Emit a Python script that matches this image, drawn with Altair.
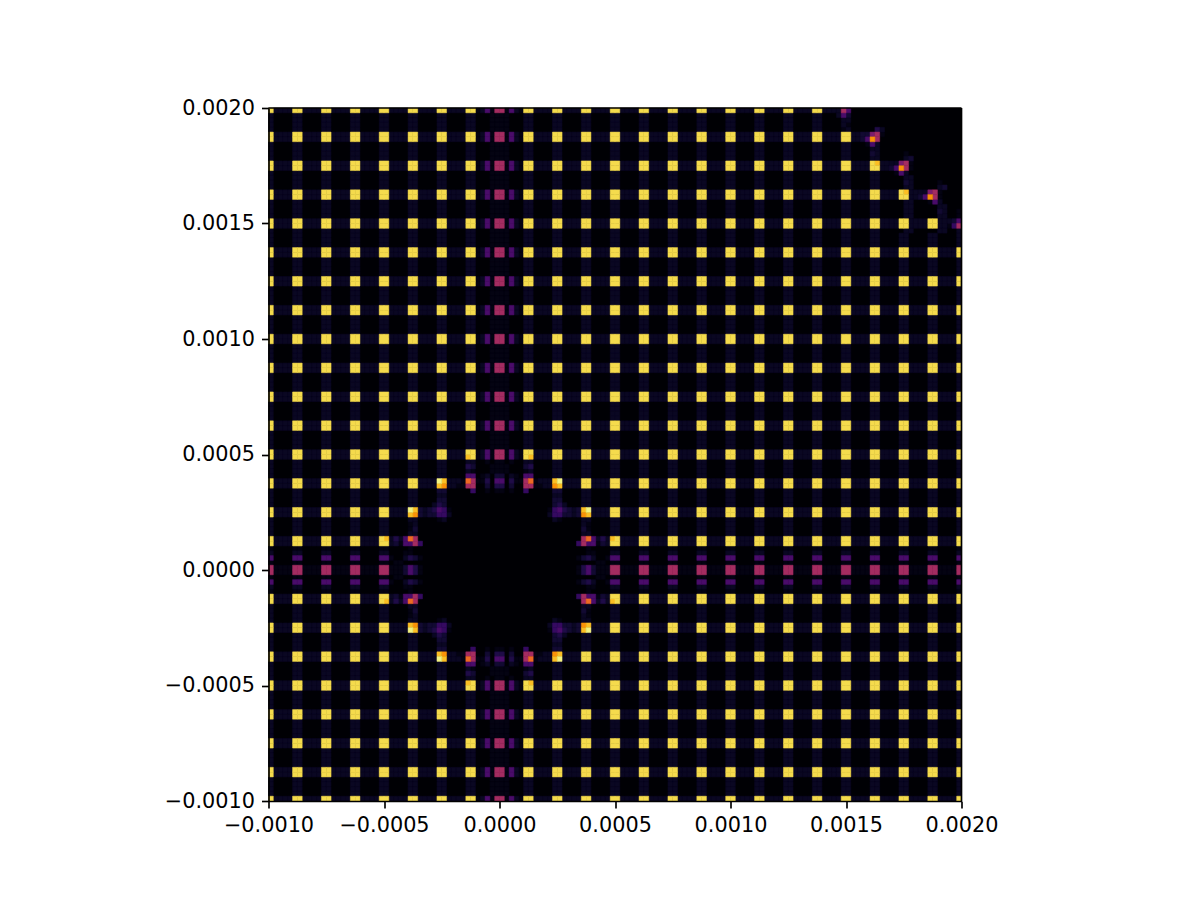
import altair as alt
import pandas as pd

alt.data_transformers.disable_max_rows()

N = 144
X_MIN, X_MAX = -0.001, 0.002
TICKS = [-0.001, -0.0005, 0.0, 0.0005, 0.001, 0.0015, 0.002]

# brightness levels (0..1 on the inferno ramp)
LEVELS = {".": 0.0, "a": 0.03, "b": 0.06, "c": 0.085, "d": 0.12, "e": 0.17, "f": 0.22,
          "g": 0.34, "h": 0.44, "i": 0.67, "j": 0.76, "k": 0.85, "l": 0.91, "m": 0.965}

# repeating cell of the lattice
TILE = ["lbbbbl", "b....b", "b....b", "b....b", "b....b", "lbbbbl"]
# horizontal band around y = 0, rows 91..100 from the top
ROW_BAND = ["a....a", "b....b", "f....f", "a....a", "haaaah",
            "haaaah", "a....a", "f....f", "b....b", "a....a"]
# vertical band around x = 0, columns 43..52; one string per row of the tile
COL_BAND = ["abfahhafba", "...aaaa...", "...aaaa...", "...aaaa...", "...aaaa...", "abfahhafba"]

# top-left quarter of the hole at the origin (cols 24..47, rows 72..95)
HOLE = [
    "lbbbbllbbbbllbbbbklabfah",
    "b....bb....bb....bb..a.a",
    "b....bb....bb....dc...aa",
    "b....bb....bb....ba...aa",
    "b....bb....bb....ff.ab.c",
    "lbbbbllbbbbmkbbbaihaad.f",
    "lbbbbllbbbbkjbbaahh..c.d",
    "b....bb....cc.....e..a.a",
    "b....bb....bb...........",
    "b....bb....cc...........",
    "b....bb...bdc...........",
    "lbbbbmkcbcdfea..........",
    "lbbbbkjcbcceeb..........",
    "b....bb....ab...........",
    "b....ab.................",
    "b....ac.................",
    "b....bb.................",
    "kbdbfih.................",
    "lbcaffhe................",
    "a....a..................",
    "b...aa..................",
    "fa..bdca................",
    "a.aa....................",
    "haaacfda................",
]

# top-right corner (cols 118..143, rows 0..25)
CORNER = [
    "bhf.......................",
    "bfc.......................",
    ".bb.......................",
    ".ba.......................",
    ".ab.....db................",
    "bllbbccgha................",
    "bllbbcfjh.................",
    ".bb...afb.................",
    ".bb....bb.................",
    ".bb....cb.....a...........",
    ".bb....bb.....bc..........",
    "bllbbbblkbbbbgha..........",
    "bllbbbbllbbcfjha..........",
    ".bb....bb...afb...........",
    ".bb....bb.....bb..........",
    ".bb....bb.....cb.....a....",
    ".bb....bb.....bb.....bc...",
    "bllbbbbllbbbblkbbbbgha....",
    "bllbbbbllbbbbllbbcfjha....",
    ".bb....bb.....bb...afb....",
    ".bb....bb.....bb.....bb...",
    ".bb....bb.....bb.....cb..a",
    ".bb....bb.....bb.....bb..a",
    "bllbbbbllbbbbllbbbbllbbbcf",
    "bllbbbbllbbbbllbbbbllbbaeh",
    ".bb....bb.....bb.....bb..b",
]


def cell(i, j):
    if 118 <= i and j <= 25:
        return CORNER[j][i - 118]
    if 24 <= i <= 71 and 72 <= j <= 119:
        c = i - 24 if i <= 47 else 71 - i
        r = j - 72 if j <= 95 else 119 - j
        return HOLE[r][c]
    if 91 <= j <= 100:
        return ROW_BAND[j - 91][i % 6]
    if 43 <= i <= 52:
        return COL_BAND[j % 6][i - 43]
    return TILE[j % 6][i % 6]


d = (X_MAX - X_MIN) / N
rows = []
for j in range(N):
    for i in range(N):
        k = cell(i, j)
        if k != ".":
            rows.append({"x": X_MIN + i * d, "x2": X_MIN + (i + 1) * d,
                         "y": X_MAX - j * d, "y2": X_MAX - (j + 1) * d, "v": LEVELS[k]})
# brighter cells last, so that a dark neighbour's hairline never eats into them
df = pd.DataFrame(rows).sort_values("v", kind="stable").reset_index(drop=True)

color = alt.Color("v:Q", scale=alt.Scale(scheme="inferno", domain=[0, 1]), legend=None)
stroke = alt.Stroke("v:Q", scale=alt.Scale(scheme="inferno", domain=[0, 1]), legend=None)

axis_common = dict(values=TICKS, format=".4f", grid=False, title=None, domainColor="black",
                   domainWidth=1.67, tickColor="black", tickWidth=1.67, tickSize=7,
                   labelFont="DejaVu Sans", labelFontSize=20.8, labelColor="black", labelPadding=7,
                   labelOverlap=False, labelFlush=False, zindex=1)

cells = alt.Chart(df).mark_rect(strokeWidth=0.5).encode(
    x=alt.X("x:Q", scale=alt.Scale(domain=[X_MIN, X_MAX], nice=False, zero=False), axis=alt.Axis(**axis_common)),
    x2="x2:Q",
    y=alt.Y("y:Q", scale=alt.Scale(domain=[X_MIN, X_MAX], nice=False, zero=False), axis=alt.Axis(**axis_common)),
    y2="y2:Q",
    color=color,
    stroke=stroke,
)
top_spine = alt.Chart(df.head(1)).mark_rule(color="black", strokeWidth=1.67).encode(
    x=alt.value(0), x2=alt.value(693), y=alt.value(0))
right_spine = alt.Chart(df.head(1)).mark_rule(color="black", strokeWidth=1.67).encode(
    x=alt.value(693), y=alt.value(0), y2=alt.value(693))

chart = alt.layer(cells, top_spine, right_spine).properties(
    width=693, height=693,
    autosize=alt.AutoSizeParams(type="none"),
    padding={"left": 260.5, "top": 100, "right": 230, "bottom": 90},
    background="white",
).configure_view(fill="#000004", stroke=None)

chart.save("out.html", embed_options={"renderer": "svg", "actions": False})
